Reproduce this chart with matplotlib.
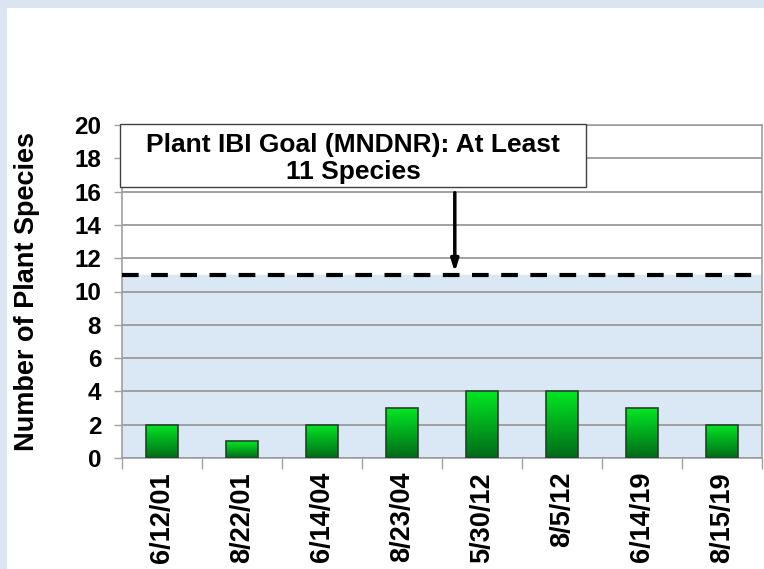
import numpy as np
import matplotlib.pyplot as plt
from matplotlib.patches import Rectangle
from matplotlib.colors import LinearSegmentedColormap

# data
dates = ['6/12/01', '8/22/01', '6/14/04', '8/23/04', '5/30/12', '8/5/12', '6/14/19', '8/15/19']
species = [2, 1, 2, 3, 4, 4, 3, 2]
goal = 11
y_ticks = list(range(0, 21, 2))

plt.rcParams['font.family'] = ['Liberation Sans', 'DejaVu Sans']
plt.rcParams['font.weight'] = 'bold'

fig = plt.figure(figsize=(7.64, 5.69), dpi=100)
fig.patch.set_facecolor('white')
# light blue slide border, left and top
fig.patches.append(Rectangle((0, 0), 7 / 764, 1, transform=fig.transFigure,
                             facecolor='#dbe5f1', edgecolor='none', zorder=-10))
fig.patches.append(Rectangle((0, 1 - 8 / 569), 1, 8 / 569, transform=fig.transFigure,
                             facecolor='#dbe5f1', edgecolor='none', zorder=-10))

ax = fig.add_axes([122 / 764, 1 - 458 / 569, 640 / 764, 333 / 569])
ax.set_facecolor('white')

x = np.arange(len(dates))

# shaded area below goal
ax.axhspan(0, goal, color='#dae7f4', zorder=1)
ax.set_yticks(y_ticks)
ax.yaxis.grid(True, color='#9a9a9a', lw=1.3, zorder=2)
ax.set_axisbelow(False)

# bars with vertical gradient
cmap = LinearSegmentedColormap.from_list('g', ['#006a18', '#00e822'])
grad = np.linspace(0, 1, 256).reshape(-1, 1)
bars = ax.bar(x, species, width=0.4, facecolor='none', edgecolor='#28412c', lw=1.2, zorder=4)
for b in bars:
    x0, y0 = b.get_x(), b.get_y()
    w, h = b.get_width(), b.get_height()
    im = ax.imshow(grad, cmap=cmap, origin='lower', aspect='auto',
                   extent=[x0, x0 + w, y0, y0 + h], zorder=3)
    im.set_clip_path(b)
ax.set_xlim(-0.5, len(dates) - 0.5)
ax.set_ylim(0, 20)

# goal line
ax.axhline(goal, color='black', lw=3, dashes=(4, 3), zorder=5)

# annotation box and arrow
ax.add_patch(Rectangle((-0.525, 16.28), 5.825, 3.8, facecolor='white', edgecolor='#404040',
                       lw=1, zorder=6, clip_on=False))
ax.text(2.39, 18.0, 'Plant IBI Goal (MNDNR): At Least\n11 Species', ha='center', va='center',
        fontsize=19, fontweight='bold', linespacing=1.15, zorder=7)
ax.annotate('', xy=(3.66, goal), xytext=(3.66, 16.1),
            arrowprops=dict(arrowstyle='-|>,head_length=0.7,head_width=0.22', color='black', lw=2.5),
            zorder=7)

# axes styling
for s in ax.spines.values():
    s.set_color('#a0a0a0')
    s.set_linewidth(1.2)
ax.set_xticks(x)
ax.set_xticklabels(dates, rotation=90, fontsize=19.5, fontweight='bold')
ax.set_xticks(np.arange(-0.5, len(dates), 1), minor=True)
ax.tick_params(axis='x', which='major', length=0, pad=10)
ax.tick_params(axis='x', which='minor', length=8, color='#a0a0a0', width=1)
ax.tick_params(axis='y', length=6, color='#a0a0a0', width=1, labelsize=17.5, pad=9)
for t in ax.get_yticklabels():
    t.set_fontweight('bold')
ax.set_ylabel('Number of Plant Species', fontsize=19.5, fontweight='bold')
ax.yaxis.set_label_coords(-0.128, 0.5)

fig.savefig('out.png', dpi=100, facecolor=fig.get_facecolor())
